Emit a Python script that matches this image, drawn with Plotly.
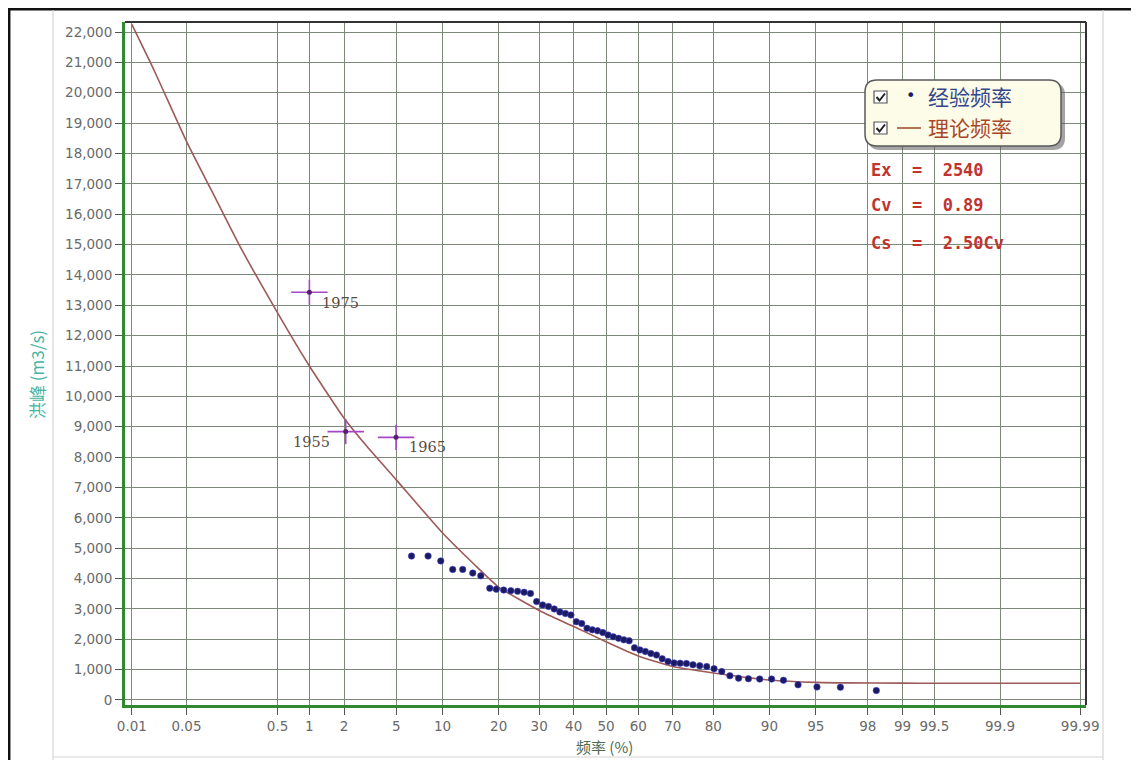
import plotly.graph_objects as go
from statistics import NormalDist

# ---------------- data ----------------
tick_p = [0.01, 0.05, 0.5, 1, 2, 5, 10, 20, 30, 40, 50, 60, 70, 80, 90, 95, 98, 99, 99.5, 99.9, 99.99]
tick_text = ["0.01", "0.05", "0.5", "1", "2", "5", "10", "20", "30", "40", "50", "60", "70",
             "80", "90", "95", "98", "99", "99.5", "99.9", "99.99"]
y_ticks = [0, 1000, 2000, 3000, 4000, 5000, 6000, 7000, 8000, 9000, 10000, 11000,
           12000, 13000, 14000, 15000, 16000, 17000, 18000, 19000, 20000, 21000, 22000]
y_text = [f"{v:,}" for v in y_ticks]

# theoretical frequency curve
theory_p = [0.01, 0.02, 0.05, 0.1, 0.2, 0.5, 1, 2, 3, 5, 10, 15, 20, 30, 40, 50, 60, 70,
            80, 90, 95, 97, 99, 99.5, 99.9, 99.99]
theory_q = [22250, 20700, 18400, 16750, 15000, 12750, 11000, 9280, 8380, 7250, 5500, 4480,
            3720, 2950, 2420, 1920, 1450, 1100, 890, 660, 580, 565, 555, 552, 550, 550]

emp_p = [6.36, 8.14, 9.75, 11.46, 13.05, 14.8, 16.3, 18.1, 19.48, 21.12, 22.76, 24.40,
         26.04, 27.68, 29.32, 30.96, 32.60, 34.24, 35.88, 37.52, 39.16, 40.80, 42.44, 44.08,
         45.72, 47.36, 49.00, 50.64, 52.28, 53.92, 55.56, 57.20, 58.84, 60.48, 62.12, 63.76,
         65.40, 67.04, 68.68, 70.32, 71.96, 73.60, 75.24, 76.88, 78.52, 80.16, 81.80, 83.44,
         85.08, 86.8, 88.6, 90.3, 91.8, 93.4, 95.1, 96.7, 98.3]
emp_q = [4740, 4740, 4580, 4300, 4300, 4180, 4090, 3680, 3650, 3620, 3600, 3580, 3550, 3510,
         3240, 3130, 3080, 3000, 2900, 2850, 2800, 2580, 2520, 2360, 2310, 2280, 2220, 2140,
         2080, 2030, 1980, 1950, 1720, 1650, 1600, 1530, 1480, 1360, 1270, 1220, 1210, 1200,
         1160, 1130, 1100, 1030, 940, 800, 720, 700, 690, 690, 650, 500, 430, 420, 310]

# historical extraordinary floods
hist_year = ["1975", "1955", "1965"]
hist_p = [1.0, 2.06, 4.98]
hist_q = [13430, 8840, 8650]

# ---------------- helpers ----------------
nd = NormalDist()


def z(p):
    return nd.inv_cdf(p / 100.0)


OFF = 8  # page body margin offset
W, H = 1139 - OFF, 760 - OFF
L, R, T, B = 125, 1086, 22, 705  # plot area in reference-pixel coordinates


def px(x):
    return (x - L) / (R - L)


def py(y):
    return (B - y) / (B - T)


fig = go.Figure()

fig.add_trace(go.Scatter(
    x=[z(p) for p in theory_p], y=theory_q, mode="lines",
    line=dict(color="#9c5a58", width=1.6, shape="spline", smoothing=0.5),
    hoverinfo="skip"))

fig.add_trace(go.Scatter(
    x=[z(p) for p in emp_p], y=emp_q, mode="markers",
    marker=dict(symbol="circle", size=6.5, color="#1b1b63",
                line=dict(width=1, color="rgba(70,70,210,0.55)")),
    hoverinfo="skip"))

hx = [z(p) for p in hist_p]
fig.add_trace(go.Scatter(
    x=hx, y=hist_q, mode="markers",
    marker=dict(symbol="line-ew", size=26, line=dict(width=1.6, color="#a646c8")),
    hoverinfo="skip"))
fig.add_trace(go.Scatter(
    x=hx, y=hist_q, mode="markers",
    marker=dict(symbol="line-ns", size=18, line=dict(width=1.6, color="#a646c8")),
    hoverinfo="skip"))
fig.add_trace(go.Scatter(
    x=hx, y=hist_q, mode="markers",
    marker=dict(symbol="circle", size=5, color="#55206e"),
    hoverinfo="skip"))

annotations = []
label_shift = [(31, -11), (-34, -10), (31, -10)]
for xv, yv, yr, (dx, dy) in zip(hx, hist_q, hist_year, label_shift):
    annotations.append(dict(
        x=xv, y=yv, xref="x", yref="y", text=yr, showarrow=False,
        xshift=dx, yshift=dy, xanchor="center", yanchor="middle",
        font=dict(family="DejaVu Serif", size=14.5, color="#5c4a3c")))

grid_col = "#7b897b"
tick_font = dict(family="DejaVu Sans", size=13.5, color="#6a6a6a")

fig.update_xaxes(
    range=[(L - 606) / 127.5, (R - 606) / 127.5],
    tickvals=[z(p) for p in tick_p], ticktext=tick_text,
    showgrid=True, gridcolor=grid_col, gridwidth=1.2,
    ticks="outside", ticklen=7, tickcolor="#555555", tickwidth=1,
    tickfont=tick_font, showline=True, linecolor="#2f8a2f", linewidth=3,
    zeroline=False)

fig.update_yaxes(
    range=[-165, 22330], tickvals=y_ticks, ticktext=y_text,
    showgrid=True, gridcolor=grid_col, gridwidth=1.2,
    ticks="outside", ticklen=7, tickcolor="#555555", tickwidth=1,
    tickfont=tick_font, showline=True, linecolor="#2f8a2f", linewidth=3,
    zeroline=False)

shapes = []
# plot frame top/right
shapes.append(dict(type="line", xref="paper", yref="paper", x0=0, x1=1, y0=1, y1=1,
                   line=dict(color="#333333", width=2)))
shapes.append(dict(type="line", xref="paper", yref="paper", x0=1, x1=1, y0=0, y1=1,
                   line=dict(color="#333333", width=2)))
# outer window frame (as close to the page edge as possible)
shapes.append(dict(type="line", xref="paper", yref="paper", x0=px(OFF), x1=px(OFF + W), y0=py(OFF + 1.2), y1=py(OFF + 1.2),
                   line=dict(color="#111111", width=2.5)))
shapes.append(dict(type="line", xref="paper", yref="paper", x0=px(OFF + 1.2), x1=px(OFF + 1.2), y0=py(OFF), y1=py(OFF + H),
                   line=dict(color="#111111", width=2.5)))
shapes.append(dict(type="line", xref="paper", yref="paper", x0=px(53), x1=px(53), y0=py(OFF + 2), y1=py(OFF + H),
                   line=dict(color="#d6d6d6", width=1.2)))
shapes.append(dict(type="line", xref="paper", yref="paper", x0=px(1103), x1=px(1103), y0=py(OFF + 2), y1=py(OFF + H),
                   line=dict(color="#d6d6d6", width=1.2)))
shapes.append(dict(type="line", xref="paper", yref="paper", x0=px(53), x1=px(1103), y0=py(757), y1=py(757),
                   line=dict(color="#d6d6d6", width=1.2)))


def rounded_rect(x0, y0, x1, y1, r):
    rx = r / (R - L)
    ry = r / (B - T)
    a0, a1 = px(x0), px(x1)
    b0, b1 = py(y0), py(y1)
    return (f"M {a0+rx},{b0} L {a1-rx},{b0} Q {a1},{b0} {a1},{b0-ry} "
            f"L {a1},{b1+ry} Q {a1},{b1} {a1-rx},{b1} L {a0+rx},{b1} "
            f"Q {a0},{b1} {a0},{b1+ry} L {a0},{b0-ry} Q {a0},{b0} {a0+rx},{b0} Z")


# legend box with shadow
shapes.append(dict(type="path", xref="paper", yref="paper",
                   path=rounded_rect(868, 83, 1065, 150, 12),
                   fillcolor="rgba(90,90,90,0.55)", line=dict(width=0)))
shapes.append(dict(type="path", xref="paper", yref="paper",
                   path=rounded_rect(865, 80, 1061, 146, 12),
                   fillcolor="#fdfce8", line=dict(color="#5a5a5a", width=1.5)))
# checkboxes
for cy in (97, 128):
    shapes.append(dict(type="rect", xref="paper", yref="paper",
                       x0=px(874), x1=px(887), y0=py(cy - 6), y1=py(cy + 6),
                       fillcolor="#ffffff", line=dict(color="#555555", width=1.2)))
    shapes.append(dict(type="path", xref="paper", yref="paper",
                       path=f"M {px(876.5)},{py(cy)} L {px(879.5)},{py(cy+3.5)} L {px(885)},{py(cy-3.5)}",
                       line=dict(color="#222222", width=2)))
# legend line symbol for theory
shapes.append(dict(type="line", xref="paper", yref="paper", x0=px(897), x1=px(921),
                   y0=py(128), y1=py(128), line=dict(color="#a0522d", width=1.6)))

annotations.append(dict(x=px(910), y=py(96), xref="paper", yref="paper", text="•",
                        showarrow=False, xanchor="center", yanchor="middle",
                        font=dict(family="DejaVu Sans", size=16, color="#1b1b63")))
annotations.append(dict(x=px(926), y=py(96), xref="paper", yref="paper", text="经验频率",
                        showarrow=False, xanchor="left", yanchor="middle",
                        font=dict(family="Noto Sans CJK SC", size=21, color="#34468a")))
annotations.append(dict(x=px(926), y=py(127), xref="paper", yref="paper", text="理论频率",
                        showarrow=False, xanchor="left", yanchor="middle",
                        font=dict(family="Noto Sans CJK SC", size=21, color="#a8482a")))

# parameter texts
params = [("Ex  =  2540", 170), ("Cv  =  0.89", 205), ("Cs  =  2.50Cv", 243)]
for txt, yy in params:
    annotations.append(dict(x=px(869), y=py(yy), xref="paper", yref="paper", text=f"<b>{txt}</b>",
                            showarrow=False, xanchor="left", yanchor="middle",
                            font=dict(family="DejaVu Sans Mono", size=17, color="#c0332e")))

# axis titles
annotations.append(dict(x=px(37), y=py(375), xref="paper", yref="paper", text="洪峰 (m3/s)",
                        showarrow=False, textangle=-90, xanchor="center", yanchor="middle",
                        font=dict(family="Noto Sans CJK SC", size=17, color="#45b5a2")))
annotations.append(dict(x=px(604), y=py(746), xref="paper", yref="paper", text="频率 (%)",
                        showarrow=False, xanchor="center", yanchor="middle",
                        font=dict(family="Noto Sans CJK SC", size=15, color="#4f6a4f")))

fig.update_layout(
    width=W, height=H,
    margin=dict(l=L - OFF, r=(W + OFF) - R, t=T - OFF, b=(H + OFF) - B, pad=0),
    paper_bgcolor="#ffffff", plot_bgcolor="#ffffff",
    showlegend=False, shapes=shapes, annotations=annotations)

fig.write_html("out.html")
